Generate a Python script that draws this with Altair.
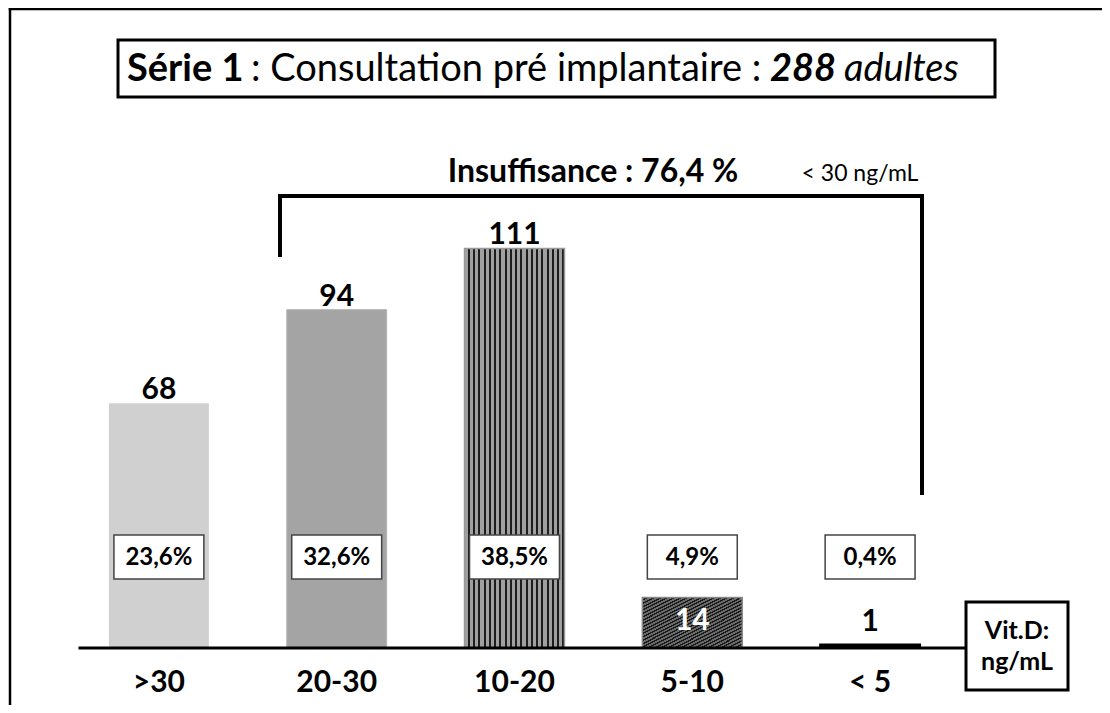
import altair as alt
import pandas as pd

categories = [">30", "20-30", "10-20", "5-10", "< 5"]
counts = [68, 94, 111, 14, 1]
percents = ["23,6%", "32,6%", "38,5%", "4,9%", "0,4%"]

title_parts = ["Série 1", ": Consultation pré implantaire :", "288", "adultes"]
bracket_label = "Insuffisance : 76,4 %"
bracket_note = "< 30 ng/mL"
unit_lines = ["Vit.D:", "ng/mL"]

FONT = "Lato"
df = pd.DataFrame({"cat": categories, "n": counts, "pct": percents})
one = pd.DataFrame({"a": [0]})

xscale = alt.Scale(domain=categories, range=[62, 951], paddingInner=0.438, paddingOuter=0.219)
yscale = alt.Scale(domain=[0, 177.8], range=[640, 0])
X = alt.X("cat:N", sort=categories, scale=xscale, axis=None)
Y = alt.Y("n:Q", scale=yscale, axis=None)

base = alt.Chart(df).encode(x=X, y=Y)


def stripes(n, base_col, dark_col, frac, x2, y2):
    stops = []
    for i in range(n):
        s = i / n
        a = s + (1 - frac) / n
        stops.append(alt.GradientStop(color=base_col, offset=s))
        stops.append(alt.GradientStop(color=base_col, offset=a))
        stops.append(alt.GradientStop(color=dark_col, offset=a))
        stops.append(alt.GradientStop(color=dark_col, offset=(i + 1) / n))
    return alt.LinearGradient(gradient="linear", stops=stops, x1=0, y1=0, x2=x2, y2=y2)


bar1 = base.mark_bar(fill="#d0d0d0").transform_filter(alt.datum.cat == ">30")
bar2 = base.mark_bar(fill="#a4a4a4", stroke="#b5b5b5", strokeWidth=1).transform_filter(alt.datum.cat == "20-30")
bar3 = base.mark_bar(fill=stripes(19, "#a0a0a0", "#1e1e1e", 0.38, 1, 0), stroke="#999999", strokeWidth=1.5).transform_filter(alt.datum.cat == "10-20")
bar4 = base.mark_bar(fill=stripes(30, "#6a6a6a", "#1a1a1a", 0.45, 1, 1), stroke="#8a8a8a", strokeWidth=1.5).transform_filter(alt.datum.cat == "5-10")
bar5 = base.mark_bar(fill="black", stroke="black", strokeWidth=2).transform_filter(alt.datum.cat == "< 5")

lab_top = base.mark_text(font=FONT, fontWeight="bold", fontSize=30, baseline="alphabetic", dy=-4, color="black").encode(
    text="n:Q").transform_filter(alt.datum.n >= 50)
lab_14 = alt.Chart(df).mark_text(font=FONT, fontWeight="bold", fontSize=30, baseline="middle", color="white").encode(
    x=X, y=alt.value(613), text="n:Q").transform_filter(alt.datum.cat == "5-10")
lab_1 = alt.Chart(df).mark_text(font=FONT, fontWeight="bold", fontSize=30, baseline="middle", color="black").encode(
    x=X, y=alt.value(614), text="n:Q").transform_filter(alt.datum.cat == "< 5")

pct_box = alt.Chart(df).mark_bar(width=alt.RelativeBandSize(0.9), fill="white", stroke="#444444", strokeWidth=1.5).encode(
    x=X, y=alt.value(527), y2=alt.value(571))
pct_txt = alt.Chart(df).mark_text(font=FONT, fontWeight="bold", fontSize=24, baseline="middle", color="black").encode(
    x=X, y=alt.value(550), text="pct:N")

cat_txt = alt.Chart(df).mark_text(font=FONT, fontWeight="bold", fontSize=30, baseline="middle", color="black").encode(
    x=X, y=alt.value(675), text="cat:N")


def rule(x, x2=None, y=None, y2=None, w=3, color="black"):
    enc = {"x": alt.value(x), "y": alt.value(y)}
    if x2 is not None:
        enc["x2"] = alt.value(x2)
    if y2 is not None:
        enc["y2"] = alt.value(y2)
    return alt.Chart(one).mark_rule(color=color, strokeWidth=w, strokeCap="square").encode(**enc)


def box(x, x2, y, y2, w=3):
    return alt.Chart(one).mark_rect(fill="white", stroke="black", strokeWidth=w).encode(
        x=alt.value(x), x2=alt.value(x2), y=alt.value(y), y2=alt.value(y2))


def txt(t, x, y, size, weight="normal", style="normal", align="center"):
    return alt.Chart(one).mark_text(text=t, font=FONT, fontSize=size, fontWeight=weight, fontStyle=style,
                                    align=align, baseline="alphabetic", color="black").encode(
        x=alt.value(x), y=alt.value(y))


border_left = rule(2, y=1, y2=697, w=2.5)
border_top = rule(2, x2=1094, y=1, w=2.5)
title_box = box(110, 987, 32, 89)
t1 = txt(title_parts[0], 119, 73, 38, weight="bold", align="left")
t2 = txt(title_parts[1], 243, 73, 38, align="left")
t3 = txt(title_parts[2], 762, 73, 38, weight="bold", style="italic", align="left")
t4 = txt(title_parts[3], 836, 73, 38, style="italic", align="left")

br_h = rule(272, x2=914, y=188, w=4)
br_l = rule(272, y=188, y2=247, w=4)
br_r = rule(914, y=188, y2=485, w=4)
br_t = txt(bracket_label, 585, 174, 32, weight="bold")
br_n = txt(bracket_note, 852, 173, 23)

axis_line = rule(72, x2=958, y=640, w=3)
unit_box = box(958, 1060, 594, 682, w=3)
u1 = txt(unit_lines[0], 1009, 631, 25, weight="bold")
u2 = txt(unit_lines[1], 1009, 662, 25, weight="bold")

chart = alt.layer(
    border_left, border_top, title_box, t1, t2, t3, t4,
    br_h, br_l, br_r, br_t, br_n,
    bar1, bar2, bar3, bar4, bar5,
    axis_line, unit_box, u1, u2,
    pct_box, pct_txt, lab_top, lab_14, lab_1, cat_txt,
).properties(
    width=1094, height=697, padding=0, autosize=alt.AutoSizeParams(type="none"), background="white"
).configure_view(stroke=None)

chart.save("out.html", embed_options={"renderer": "svg", "actions": False})
